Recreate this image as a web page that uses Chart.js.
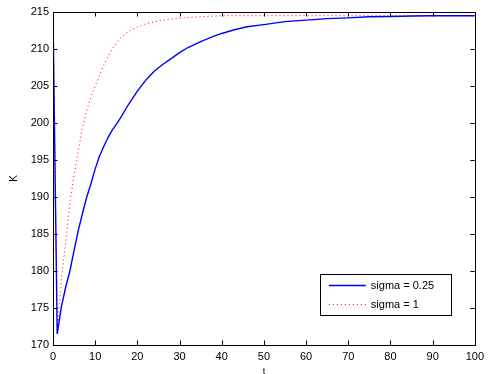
<!DOCTYPE html>
<html>
<head>
<meta charset="utf-8">
<script src="https://cdn.jsdelivr.net/npm/chart.js@4.4.1/dist/chart.umd.min.js"></script>
<style>
  html, body { margin: 0; padding: 0; background: #fff; }
  #wrap { width: 489px; height: 374px; }
</style>
</head>
<body>
<div id="wrap"><canvas id="chart"></canvas></div>
<script>
// sigma = 0.25
const blueT = [0, 1, 2, 3, 4, 5, 6, 7, 8, 9, 10, 11, 12, 13, 14, 15, 16, 18, 20, 22, 24, 26, 28, 30, 32, 35, 38, 40, 43, 46, 50, 55, 60, 65, 70, 75, 80, 85, 90, 100]
const blueK = [214.5, 171.5, 175.2, 177.8, 180, 182.8, 185.5, 187.8, 190, 191.8, 193.8, 195.5, 196.8, 198, 199, 199.8, 200.7, 202.6, 204.3, 205.8, 207, 207.9, 208.7, 209.5, 210.2, 211, 211.7, 212.1, 212.6, 213, 213.3, 213.7, 213.9, 214.1, 214.2, 214.35, 214.4, 214.45, 214.5, 214.5]

// sigma = 1
const redT = [0, 1, 2, 3, 4, 5, 6, 7, 8, 9, 10, 12, 14, 16, 18, 20, 22, 25, 28, 32, 36, 40, 50, 60, 70, 80, 90, 100]
const redK = [214.5, 171.5, 179, 183.8, 189.3, 193, 196.2, 199.5, 201.7, 203.5, 205, 207.8, 210, 211.5, 212.4, 213, 213.4, 213.8, 214.05, 214.25, 214.4, 214.5, 214.5, 214.5, 214.5, 214.5, 214.5, 214.5]

const seriesLabels = ['sigma = 0.25', 'sigma = 1']
const xTicks = [0, 10, 20, 30, 40, 50, 60, 70, 80, 90, 100]
const yTicks = [170, 175, 180, 185, 190, 195, 200, 205, 210, 215]

const FONT = '"Liberation Sans", Arial, Helvetica, sans-serif'
Chart.defaults.font.family = FONT
Chart.defaults.color = '#000'

const toPoints = (xs, ys) => xs.map((x, i) => ({ x, y: ys[i] }))

// matlab style box with ticks pointing inwards on every side
const matlabBox = {
  id: 'matlabBox',
  afterDatasetsDraw(chart) {
    const { ctx, chartArea: { left, top, right, bottom }, scales } = chart
    const len = 4.5
    ctx.save()
    ctx.strokeStyle = '#000'
    ctx.lineWidth = 1
    ctx.strokeRect(Math.round(left) + 0.5, Math.round(top) + 0.5,
      Math.round(right - left), Math.round(bottom - top))
    ctx.beginPath()
    scales.x.ticks.forEach((t) => {
      const px = Math.round(scales.x.getPixelForValue(t.value)) + 0.5
      ctx.moveTo(px, bottom); ctx.lineTo(px, bottom - len)
      ctx.moveTo(px, top); ctx.lineTo(px, top + len)
    })
    scales.y.ticks.forEach((t) => {
      const py = Math.round(scales.y.getPixelForValue(t.value)) + 0.5
      ctx.moveTo(left, py); ctx.lineTo(left + len, py)
      ctx.moveTo(right, py); ctx.lineTo(right - len, py)
    })
    ctx.stroke()
    ctx.restore()
  },
}

// legend box inside the lower right of the axes
const insideLegend = {
  id: 'insideLegend',
  afterDraw(chart) {
    const { ctx, chartArea } = chart
    const w = 131, h = 41
    const x = chartArea.right - 24 - w
    const y = chartArea.bottom - 30 - h
    ctx.save()
    ctx.fillStyle = '#fff'
    ctx.fillRect(x, y, w, h)
    ctx.strokeStyle = '#000'
    ctx.lineWidth = 1
    ctx.strokeRect(Math.round(x) + 0.5, Math.round(y) + 0.5, w, h)
    ctx.font = '11px ' + FONT
    ctx.textBaseline = 'middle'
    chart.data.datasets.forEach((ds, i) => {
      const ly = Math.round(y + 11 + i * 18.5) + 0.5
      ctx.beginPath()
      ctx.strokeStyle = ds.borderColor
      ctx.lineWidth = ds.borderWidth
      ctx.setLineDash(ds.borderDash || [])
      ctx.moveTo(x + 9, ly)
      ctx.lineTo(x + 46, ly)
      ctx.stroke()
      ctx.setLineDash([])
      ctx.fillStyle = '#000'
      ctx.fillText(ds.label, x + 51, ly)
    })
    ctx.restore()
  },
}

const ctx = document.getElementById('chart').getContext('2d')
const myChart = new Chart(ctx, {
  type: 'line',
  data: {
    datasets: [
      {
        label: seriesLabels[0],
        data: toPoints(blueT, blueK),
        borderColor: '#0000ff',
        borderWidth: 1.4,
        pointRadius: 0,
        tension: 0,
      },
      {
        label: seriesLabels[1],
        data: toPoints(redT, redK),
        borderColor: '#ff0000',
        borderWidth: 1,
        borderDash: [1, 3],
        pointRadius: 0,
        tension: 0,
      },
    ],
  },
  options: {
    responsive: true,
    maintainAspectRatio: false,
    animation: false,
    layout: { padding: { top: 12, right: 13, bottom: 0, left: 0 } },
    scales: {
      x: {
        type: 'linear',
        min: 0,
        max: 100,
        afterBuildTicks: (scale) => {
          scale.ticks = xTicks.map((v) => ({ value: v }))
        },
        afterFit: (scale) => {
          scale.height = 29
        },
        grid: { display: false, drawTicks: false },
        border: { display: false },
        ticks: { padding: 5, font: { size: 11 }, maxRotation: 0 },
        title: { display: true, text: 't', font: { size: 9, lineHeight: 0.6 }, padding: 0 },
      },
      y: {
        min: 170,
        max: 215,
        afterBuildTicks: (scale) => {
          scale.ticks = yTicks.map((v) => ({ value: v }))
        },
        afterFit: (scale) => {
          scale.width = 53
        },
        grid: { display: false, drawTicks: false },
        border: { display: false },
        ticks: { padding: 4, font: { size: 11 } },
        title: { display: true, text: 'K', font: { size: 10 }, padding: { top: 8, bottom: 0 } },
      },
    },
    plugins: {
      legend: false,
      tooltip: false,
    },
  },
  plugins: [matlabBox, insideLegend],
})
</script>
</body>
</html>
